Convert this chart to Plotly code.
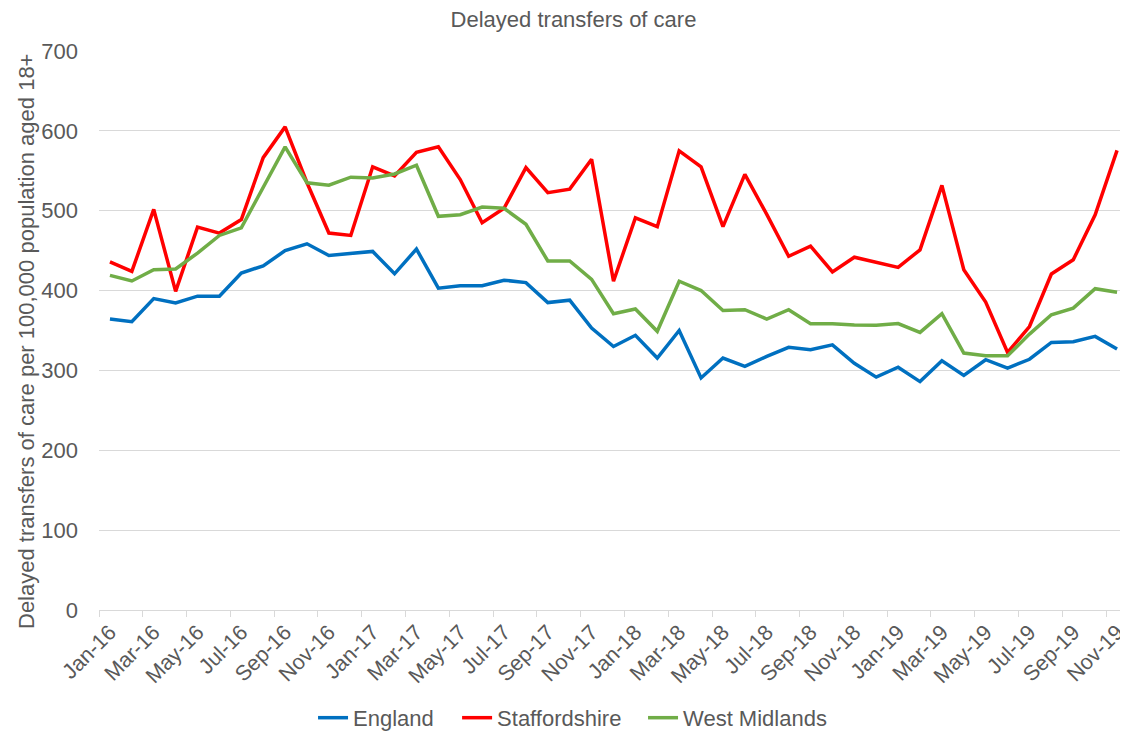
import plotly.graph_objects as go

months = ["Jan-16","Feb-16","Mar-16","Apr-16","May-16","Jun-16","Jul-16","Aug-16","Sep-16","Oct-16","Nov-16","Dec-16",
          "Jan-17","Feb-17","Mar-17","Apr-17","May-17","Jun-17","Jul-17","Aug-17","Sep-17","Oct-17","Nov-17","Dec-17",
          "Jan-18","Feb-18","Mar-18","Apr-18","May-18","Jun-18","Jul-18","Aug-18","Sep-18","Oct-18","Nov-18","Dec-18",
          "Jan-19","Feb-19","Mar-19","Apr-19","May-19","Jun-19","Jul-19","Aug-19","Sep-19","Oct-19","Nov-19"]

england = [364.5, 361, 390, 384.5, 393, 393, 422, 431, 450, 458.6, 444, 447,
           449, 421, 452, 403, 406, 406, 413, 410, 385, 388, 353, 330,
           344, 315.5, 350, 290.6, 315.5, 305, 317.6, 329, 326, 332, 309, 291.6,
           304, 286, 312, 293.7, 313.4, 303, 314, 335, 336, 342.6, 326.7]

staffordshire = [436, 424, 501.6, 399, 479.5, 472, 489, 566.5, 605, 535, 472, 469,
                 555, 543.5, 573, 580, 539, 485, 503, 554, 522.6, 527, 564.4, 411.7,
                 491, 480, 575, 555, 480, 545.6, 495.4, 443, 455.6, 423.4, 441.8, 435.6,
                 429, 451, 531.7, 426, 385.6, 322.5, 355, 420.7, 438.6, 495, 575.6]

west_midlands = [419, 412, 426, 427, 447, 469, 478.6, 529, 580, 535, 532, 542,
                 541, 546, 557, 493, 495, 504.6, 503, 483, 437, 437, 414, 371,
                 377, 349, 411.7, 400, 375, 376, 364.4, 376, 358.6, 358.6, 357, 356.5,
                 358.6, 347.6, 371, 321.7, 318.4, 318.4, 345.5, 369.7, 378, 402.3, 398]

series = [("England", england, "#0070C0", "legend", 0.208),
          ("Staffordshire", staffordshire, "#FF0000", "legend2", 0.348),
          ("West Midlands", west_midlands, "#70AD47", "legend3", 0.5287)]

y_ticks = [0, 100, 200, 300, 400, 500, 600, 700]

FONT = "Liberation Sans, Arial, sans-serif"
TXT = "#595959"
GRID = "#D9D9D9"

# page body has an 8px margin: figure is drawn at (8, 8)
W, H = 1120, 723
L, T, B, R = 91, 43, 121, 0
plot_w = W - L - R
plot_h = H - T - B

x_idx = list(range(len(months)))

fig = go.Figure()
legend_defs = {}
for name, vals, col, lg, lx in series:
    fig.add_trace(go.Scatter(x=x_idx, y=vals, mode="lines", name=name, legend=lg,
                             line=dict(color=col, width=3.5)))
    legend_defs[lg] = dict(orientation="h", x=lx, xanchor="left", y=-0.193, yanchor="middle",
                           font=dict(size=22, color=TXT), itemwidth=30,
                           bgcolor="rgba(0,0,0,0)", borderwidth=0)

fig.update_layout(
    width=W, height=H,
    paper_bgcolor="white", plot_bgcolor="white",
    margin=dict(l=L, r=R, t=T, b=B, pad=0, autoexpand=False),
    font=dict(family=FONT, color=TXT),
    title=dict(text="Delayed transfers of care", x=(573.5 - 8) / W, xanchor="center",
               y=1 - 11 / H, yanchor="middle", font=dict(size=22, color=TXT)),
    showlegend=True,
    **legend_defs,
)

fig.update_xaxes(
    automargin=False,
    range=[-0.5, len(months) - 0.5],
    tickmode="array",
    tickvals=x_idx[::2],
    ticktext=months[::2],
    tickangle=-45,
    ticks="",
    ticklabeloverflow="allow",
    tickfont=dict(size=21.5, color=TXT),
    showgrid=False, zeroline=False,
    showline=True, linecolor=GRID, linewidth=1.3,
    minor=dict(tickmode="linear", tick0=-0.5, dtick=2, ticks="outside",
               ticklen=6, tickcolor=GRID, tickwidth=1.3, showgrid=False),
)

fig.update_yaxes(
    automargin=False,
    range=[0, 700],
    tickmode="array", tickvals=y_ticks,
    tickfont=dict(size=22, color=TXT),
    showgrid=True, gridcolor=GRID, gridwidth=1.3,
    zeroline=False, showline=False, ticks="",
    ticklabelstandoff=20,
)

# y-axis title placed to match the reference (page centre x≈26, y≈342)
fig.add_annotation(
    text="Delayed transfers of care per 100,000 population aged 18+",
    xref="paper", yref="paper",
    x=((26 - 8) - L) / plot_w, y=((T + plot_h) - (342 - 8)) / plot_h,
    xanchor="center", yanchor="middle", textangle=-90, showarrow=False,
    font=dict(size=22, color=TXT),
)

fig.write_html("out.html")
